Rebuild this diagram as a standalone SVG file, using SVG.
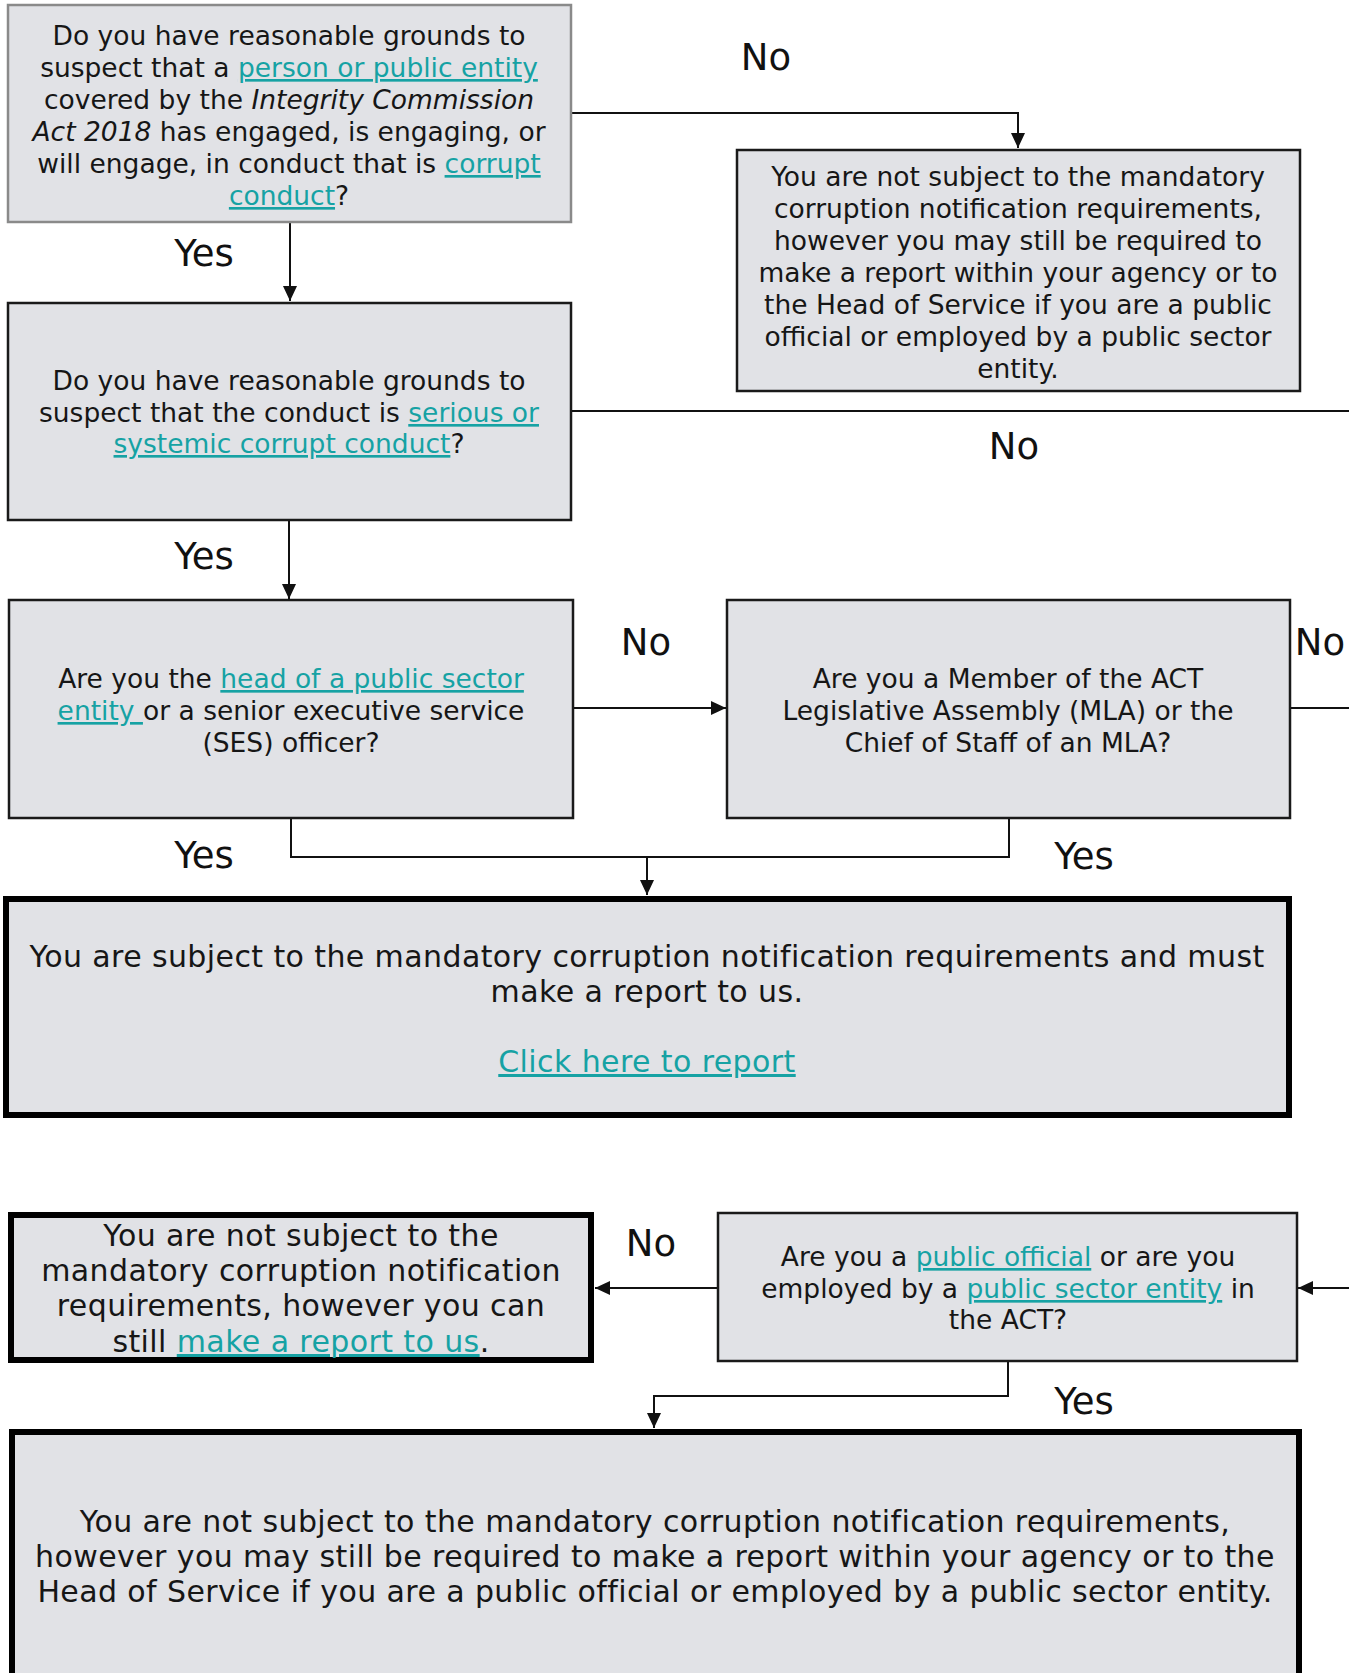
<svg xmlns="http://www.w3.org/2000/svg" width="1349" height="1673" viewBox="0 0 1349 1673">
<style>
.bg{fill:#ffffff}
.box{fill:#e1e2e6;stroke:#1a1a1a;stroke-width:2.5}
.boxg{fill:#e1e2e6;stroke:#8a8a8a;stroke-width:2.5}
.boxk{fill:#e1e2e6;stroke:#000;stroke-width:6}
.t{font-family:"DejaVu Sans","Liberation Sans",sans-serif;font-size:26.5px;fill:#161616;text-anchor:middle}
.m{font-size:30px;letter-spacing:0.4px}
.b{font-size:30px;letter-spacing:0.4px}
.lk{fill:#16a2a4;text-decoration:underline}
.lbl{font-family:"DejaVu Sans","Liberation Sans",sans-serif;font-size:37px;fill:#111;text-anchor:middle}
.c{fill:none;stroke:#111;stroke-width:2}
</style>
<defs>
<marker id="ah" markerUnits="userSpaceOnUse" markerWidth="16" markerHeight="16" refX="15" refY="8" orient="auto">
<path d="M0,1 L15,8 L0,15 Z" fill="#111"/>
</marker>
</defs>
<rect class="bg" x="0" y="0" width="1349" height="1673"/>

<g id="connectors">
<path class="c" d="M571,113 H1018 V148" marker-end="url(#ah)"/>
<path class="c" d="M290,222 V301" marker-end="url(#ah)"/>
<path class="c" d="M571,411 H1349"/>
<path class="c" d="M289,520 V599" marker-end="url(#ah)"/>
<path class="c" d="M573,708 H726" marker-end="url(#ah)"/>
<path class="c" d="M1290,708 H1349"/>
<path class="c" d="M291,818 V857 H1009 V818"/>
<path class="c" d="M647,857 V895" marker-end="url(#ah)"/>
<path class="c" d="M717,1288 H595" marker-end="url(#ah)"/>
<path class="c" d="M1349,1288 H1298" marker-end="url(#ah)"/>
<path class="c" d="M1008,1361 V1396 H654 V1428" marker-end="url(#ah)"/>
<text class="lbl" x="766" y="70">No</text>
<text class="lbl" x="204" y="266">Yes</text>
<text class="lbl" x="1014" y="459">No</text>
<text class="lbl" x="204" y="569">Yes</text>
<text class="lbl" x="646" y="655">No</text>
<text class="lbl" x="1320" y="655">No</text>
<text class="lbl" x="204" y="868">Yes</text>
<text class="lbl" x="1084" y="869">Yes</text>
<text class="lbl" x="651" y="1256">No</text>
<text class="lbl" x="1084" y="1414">Yes</text>
</g>

<g id="q1">
<rect class="boxg" x="8" y="5" width="563" height="217"/>
<text class="t" x="289" y="45">Do you have reasonable grounds to</text>
<text class="t" x="289" y="77">suspect that a <tspan class="lk">person or public entity</tspan></text>
<text class="t" x="289" y="109">covered by the <tspan font-style="italic">Integrity Commission</tspan></text>
<text class="t" x="289" y="141"><tspan font-style="italic">Act 2018</tspan> has engaged, is engaging, or</text>
<text class="t" x="289" y="173">will engage, in conduct that is <tspan class="lk">corrupt</tspan></text>
<text class="t" x="289" y="205"><tspan class="lk">conduct</tspan>?</text>
</g>

<g id="r1">
<rect class="box" x="737" y="150" width="563" height="241"/>
<text class="t" x="1018" y="186">You are not subject to the mandatory</text>
<text class="t" x="1018" y="218">corruption notification requirements,</text>
<text class="t" x="1018" y="250">however you may still be required to</text>
<text class="t" x="1018" y="282">make a report within your agency or to</text>
<text class="t" x="1018" y="314">the Head of Service if you are a public</text>
<text class="t" x="1018" y="346">official or employed by a public sector</text>
<text class="t" x="1018" y="378">entity.</text>
</g>

<g id="q2">
<rect class="box" x="8" y="303" width="563" height="217"/>
<text class="t" x="289" y="390">Do you have reasonable grounds to</text>
<text class="t" x="289" y="422">suspect that the conduct is <tspan class="lk">serious or</tspan></text>
<text class="t" x="289" y="453"><tspan class="lk">systemic corrupt conduct</tspan>?</text>
</g>

<g id="q3">
<rect class="box" x="9" y="600" width="564" height="218"/>
<text class="t" x="291" y="688">Are you the <tspan class="lk">head of a public sector</tspan></text>
<text class="t" x="291" y="720"><tspan class="lk">entity </tspan>or a senior executive service</text>
<text class="t" x="291" y="752">(SES) officer?</text>
</g>

<g id="q4">
<rect class="box" x="727" y="600" width="563" height="218"/>
<text class="t" x="1008" y="688">Are you a Member of the ACT</text>
<text class="t" x="1008" y="720">Legislative Assembly (MLA) or the</text>
<text class="t" x="1008" y="752">Chief of Staff of an MLA?</text>
</g>

<g id="r2">
<rect class="boxk" x="6" y="899" width="1283" height="216"/>
<text class="t b" x="647" y="967">You are subject to the mandatory corruption notification requirements and must</text>
<text class="t b" x="647" y="1002">make a report to us.</text>
<text class="t b" x="647" y="1072"><tspan class="lk">Click here to report</tspan></text>
</g>

<g id="r3">
<rect class="boxk" x="11" y="1215" width="580" height="145"/>
<text class="t m" x="301" y="1246">You are not subject to the</text>
<text class="t m" x="301" y="1281">mandatory corruption notification</text>
<text class="t m" x="301" y="1316">requirements, however you can</text>
<text class="t m" x="301" y="1352">still <tspan class="lk">make a report to us</tspan>.</text>
</g>

<g id="q5">
<rect class="box" x="718" y="1213" width="579" height="148"/>
<text class="t" x="1008" y="1266">Are you a <tspan class="lk">public official</tspan> or are you</text>
<text class="t" x="1008" y="1298">employed by a <tspan class="lk">public sector entity</tspan> in</text>
<text class="t" x="1008" y="1329">the ACT?</text>
</g>

<g id="r4">
<rect class="boxk" x="12" y="1432" width="1287" height="280"/>
<text class="t b" x="655" y="1532">You are not subject to the mandatory corruption notification requirements,</text>
<text class="t b" x="655" y="1567">however you may still be required to make a report within your agency or to the</text>
<text class="t b" x="655" y="1602">Head of Service if you are a public official or employed by a public sector entity.</text>
</g>
</svg>
